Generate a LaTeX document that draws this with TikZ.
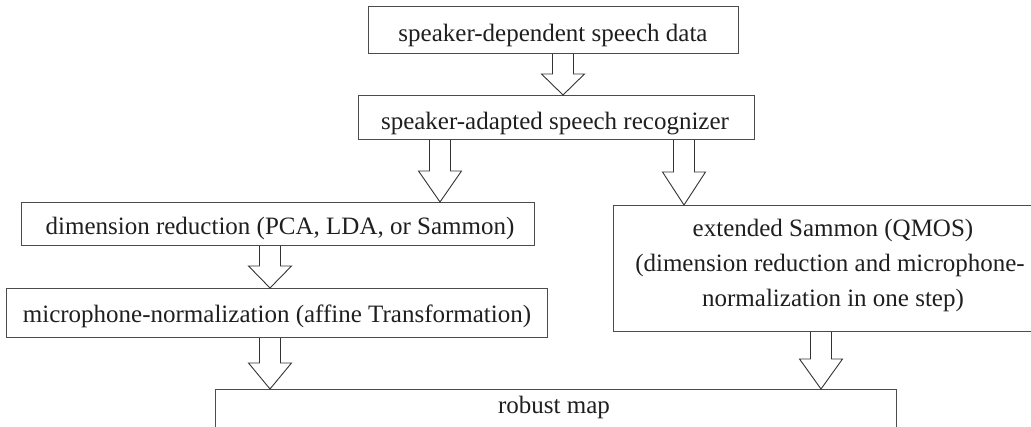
\documentclass[tikz,border=0pt]{standalone}
\usepackage{fontspec}
\setmainfont{Liberation Serif}
\usetikzlibrary{calc}

\tikzset{
  box/.style={draw=black!70, line width=1pt, rectangle, inner sep=0pt, anchor=north west},
  lbl/.style={text=black!88, inner sep=0pt, anchor=base, font=\fontsize{25}{35}\selectfont},
  arrowline/.style={draw=black!80, line width=0.9pt, line join=miter},
}

% Hollow block arrow on the vertical axis x=#1 (px), from the bottom of node #2
% to the top of node #3, with a head #4 px long.
\newcommand\blockarrow[4]{%
  \draw[arrowline] let \p1=(#2.south), \p2=(#3.north) in
    (#1pt-10.5pt,\y1) -- (#1pt-10.5pt,\y2+#4pt) -- (#1pt-21.5pt,\y2+#4pt)
    -- (#1pt,\y2) -- (#1pt+21.5pt,\y2+#4pt) -- (#1pt+10.5pt,\y2+#4pt)
    -- (#1pt+10.5pt,\y1);
}

\begin{document}
\begin{tikzpicture}[x=1pt, y=-1pt]
  \useasboundingbox (0,0) rectangle (1031,427);
  \clip (0,0) rectangle (1031,427);

  % boxes
  \node[box, minimum width=370pt, minimum height=47pt]  (b1) at (368,6)   {};
  \node[box, minimum width=396pt, minimum height=44pt]  (b2) at (358,95)  {};
  \node[box, minimum width=513pt, minimum height=43pt]  (b3) at (21,202)  {};
  \node[box, minimum width=541pt, minimum height=49pt]  (b4) at (6,288)   {};
  \node[box, minimum width=440pt, minimum height=126pt] (b5) at (613,205) {};
  \node[box, minimum width=681pt, minimum height=80pt]  (b6) at (215,389) {};

  % labels
  \node[lbl] (t1) at (553,41.7) {speaker-dependent speech data};
  \node[lbl] (t2) at (555,130)  {speaker-adapted speech recognizer};
  \node[lbl] (t3) at (280,235)  {dimension reduction (PCA, LDA, or Sammon)};
  \node[lbl] (t4) at (277,323)  {microphone-normalization (affine Transformation)};
  \node[lbl] (t5a) at (833,237) {extended Sammon (QMOS)};
  \node[lbl] (t5b) at (830,272) {(dimension reduction and microphone-};
  \node[lbl] (t5c) at (833,307) {normalization in one step)};
  \node[lbl] (t6) at (554,414)  {robust map};

  % arrows
  \blockarrow{563}{b1}{b2}{21}
  \blockarrow{440}{b2}{b3}{31}
  \blockarrow{684}{b2}{b5}{33}
  \blockarrow{270}{b3}{b4}{22}
  \blockarrow{270}{b4}{b6}{26}
  \blockarrow{821}{b5}{b6}{30}
\end{tikzpicture}
\end{document}
